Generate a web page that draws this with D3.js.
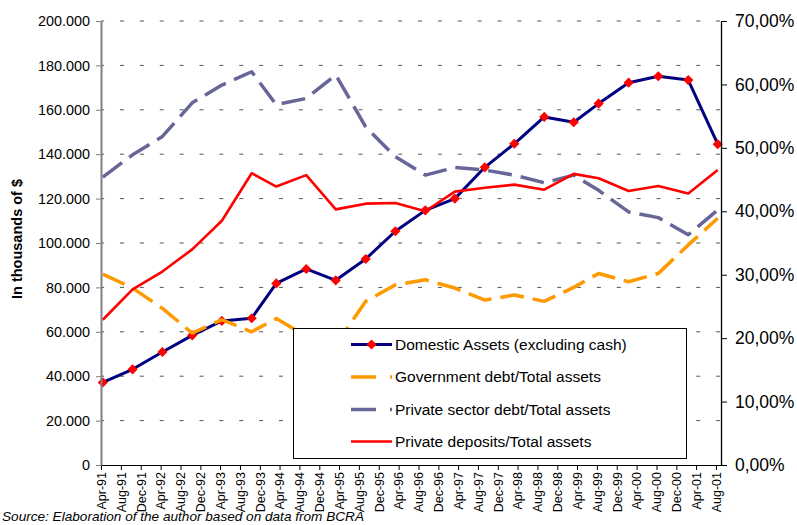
<!DOCTYPE html>
<html>
<head>
<meta charset="utf-8">
<script src="https://cdn.jsdelivr.net/npm/d3@7"></script>
<style>
  body { margin: 0; background: #fff; }
  svg { display: block; font-family: "Liberation Sans", Arial, sans-serif; }
</style>
</head>
<body>
<div id="chart"></div>
<script>
// observation months (semi-annual, a couple of irregular steps)
const dates = ["1991-04", "1991-10", "1992-04", "1992-10", "1993-04", "1993-10",
  "1994-03", "1994-09", "1995-03", "1995-09", "1996-03", "1996-09",
  "1997-03", "1997-09", "1998-03", "1998-09", "1999-03", "1999-08",
  "2000-02", "2000-08", "2001-02", "2001-08"];

// thousands of $ (left axis)
const domesticAssets = [37200, 43100, 50900, 58400, 64900, 66100, 81800, 88300, 83200, 92800, 105300,
  114700, 120000, 134100, 144700, 156800, 154400, 162800, 172200, 175100, 173400, 144500];

// ratios in % (right axis)
const governmentDebt = [30.1, 27.9, 24.7, 20.8, 22.9, 21.0, 23.1, 20.3, 18.9, 25.8, 28.4,
  29.2, 27.9, 26.0, 26.8, 25.8, 28.0, 30.2, 28.9, 30.2, 34.7, 38.9];
const privateSectorDebt = [45.4, 48.9, 51.8, 57.1, 59.9, 62.0, 56.8, 57.8, 61.5, 53.3, 48.6,
  45.7, 46.9, 46.5, 45.7, 44.5, 45.7, 43.3, 39.9, 39.0, 36.3, 40.2];
const privateDeposits = [22.9, 27.7, 30.5, 34.0, 38.5, 46.0, 43.9, 45.7, 40.3, 41.2, 41.3,
  40.0, 43.1, 43.7, 44.2, 43.4, 45.9, 45.2, 43.2, 44.0, 42.8, 46.5];

const tickLabels = ["Apr-91", "Aug-91", "Dec-91", "Apr-92", "Aug-92", "Dec-92", "Apr-93", "Aug-93",
  "Dec-93", "Apr-94", "Aug-94", "Dec-94", "Apr-95", "Aug-95", "Dec-95", "Apr-96", "Aug-96",
  "Dec-96", "Apr-97", "Aug-97", "Dec-97", "Apr-98", "Aug-98", "Dec-98", "Apr-99", "Aug-99",
  "Dec-99", "Apr-00", "Aug-00", "Dec-00", "Apr-01", "Aug-01"];
const leftTicks = [0, 20000, 40000, 60000, 80000, 100000, 120000, 140000, 160000, 180000, 200000];
const rightTicks = [0, 10, 20, 30, 40, 50, 60, 70];

const legendLabels = ["Domestic Assets (excluding cash)", "Government debt/Total assets",
  "Private sector debt/Total assets", "Private deposits/Total assets"];
const seriesColors = ["#000080", "#ff9900", "#666699", "#ff0000"];

const width = 797, height = 525;
const margin = {top: 21, right: 76, bottom: 60, left: 101};

const svg = d3.select("#chart").append("svg")
    .attr("width", width)
    .attr("height", height);

const parseLabel = d3.timeParse("%b-%y");
const parseDay = d3.timeParse("%Y-%m-%d");
const points = dates.map((d, i) => ({
    date: parseDay(d + "-12"),
    assets: domesticAssets[i],
    gov: governmentDebt[i],
    priv: privateSectorDebt[i],
    dep: privateDeposits[i]
}));
const tickDates = tickLabels.map(parseLabel);

// axis runs from Apr-91 to one month past Aug-01
const x = d3.scaleTime()
    .domain([tickDates[0], d3.timeMonth.offset(tickDates[tickDates.length - 1], 1)])
    .range([margin.left, width - margin.right]);
const yLeft = d3.scaleLinear().domain([0, 200000]).range([height - margin.bottom - 0, margin.top]);
yLeft.range([465, 21]);
const yRight = d3.scaleLinear().domain([0, 70]).range([465, 21]);

// gridlines
svg.append("g")
    .selectAll("line")
    .data(leftTicks.slice(1))
    .enter().append("line")
    .attr("x1", x.range()[0])
    .attr("x2", x.range()[1])
    .attr("y1", d => yLeft(d))
    .attr("y2", d => yLeft(d))
    .attr("stroke", "#555")
    .attr("stroke-width", 1)
    .attr("stroke-dasharray", "4 15.87")
    .attr("stroke-dashoffset", 0.87);

// domestic assets line + markers
const assetLine = d3.line().x(d => x(d.date)).y(d => yLeft(d.assets));
svg.append("path")
    .datum(points)
    .attr("d", assetLine)
    .attr("fill", "none")
    .attr("stroke", seriesColors[0])
    .attr("stroke-width", 3)
    .attr("stroke-linejoin", "round");

svg.append("g")
    .selectAll("rect")
    .data(points)
    .enter().append("rect")
    .attr("x", -3.6).attr("y", -3.6)
    .attr("width", 7.2).attr("height", 7.2)
    .attr("fill", "#ff0000")
    .attr("transform", d => `translate(${x(d.date)},${yLeft(d.assets)}) rotate(45)`);

// ratio series on the right axis
const ratioSeries = [
    {key: "gov", color: seriesColors[1], dash: "24 9", width: 3.5},
    {key: "priv", color: seriesColors[2], dash: "24 9", width: 3.5},
    {key: "dep", color: seriesColors[3], dash: null, width: 2.6}
];
ratioSeries.forEach(s => {
    svg.append("path")
        .datum(points)
        .attr("d", d3.line().x(d => x(d.date)).y(d => yRight(d[s.key])))
        .attr("fill", "none")
        .attr("stroke", s.color)
        .attr("stroke-width", s.width)
        .attr("stroke-dasharray", s.dash)
        .attr("stroke-linejoin", "round");
});

// axes
const xAxis = d3.axisBottom(x)
    .tickValues(tickDates)
    .tickFormat((d, i) => tickLabels[i])
    .tickSize(5)
    .tickSizeOuter(0);
const gx = svg.append("g")
    .attr("transform", "translate(0,465)")
    .call(xAxis);
gx.select(".domain").attr("stroke", "#000");
gx.selectAll("text")
    .attr("font-size", "12.5px")
    .attr("fill", "#000")
    .attr("text-anchor", "end")
    .attr("transform", "rotate(-90)")
    .attr("x", -7)
    .attr("y", 0)
    .attr("dy", "0.35em");

const leftFormat = d => d === 0 ? "0" : d3.format(",")(d).replace(/,/g, ".");
const gl = svg.append("g")
    .attr("transform", `translate(${margin.left},0)`)
    .call(d3.axisLeft(yLeft).tickValues(leftTicks).tickFormat(leftFormat).tickSize(5).tickPadding(6).tickSizeOuter(0));
gl.select(".domain").attr("stroke", "#808080").attr("stroke-width", 2);
gl.selectAll(".tick line").attr("stroke", "#808080");
gl.selectAll("text").attr("font-size", "14.4px").attr("fill", "#000");

const rightFormat = d => d.toFixed(2).replace(".", ",") + "%";
const gr = svg.append("g")
    .attr("transform", `translate(${width - margin.right},0)`)
    .call(d3.axisRight(yRight).tickValues(rightTicks).tickFormat(rightFormat).tickSize(6).tickPadding(8).tickSizeOuter(0));
gr.select(".domain").attr("stroke", "#000").attr("stroke-width", 1.3);
gr.selectAll("text").attr("font-size", "17.5px").attr("fill", "#000");

// y axis title
svg.append("text")
    .attr("transform", "translate(17,239) rotate(-90)")
    .attr("text-anchor", "middle")
    .attr("dy", "0.35em")
    .attr("font-size", "14.5px")
    .attr("font-weight", "bold")
    .text("In thousands of $");

// legend
const legend = svg.append("g");
legend.append("rect")
    .attr("x", 293.5).attr("y", 328.5)
    .attr("width", 393).attr("height", 130)
    .attr("fill", "#fff")
    .attr("stroke", "#000")
    .attr("stroke-width", 1);

const rowY = [344.5, 377, 409.5, 441.5];
legendLabels.forEach((label, i) => {
    const row = legend.append("g").attr("transform", `translate(0,${rowY[i]})`);
    row.append("line")
        .attr("x1", 351).attr("x2", 392)
        .attr("stroke", seriesColors[i])
        .attr("stroke-width", i === 0 ? 3 : (i === 3 ? 2.6 : 3.5))
        .attr("stroke-dasharray", (i === 1 || i === 2) ? "25 14" : null);
    if (i === 0) {
        row.append("rect")
            .attr("x", -3.6).attr("y", -3.6)
            .attr("width", 7.2).attr("height", 7.2)
            .attr("fill", "#ff0000")
            .attr("transform", "translate(371.5,0) rotate(45)");
    }
    row.append("text")
        .attr("x", 395)
        .attr("dy", "0.35em")
        .attr("font-size", "15.5px")
        .text(label);
});

// source note
svg.append("text")
    .attr("x", 2)
    .attr("y", 521)
    .attr("font-size", "13.6px")
    .attr("font-style", "italic")
    .text("Source: Elaboration of the author based on data from BCRA");
</script>
</body>
</html>
